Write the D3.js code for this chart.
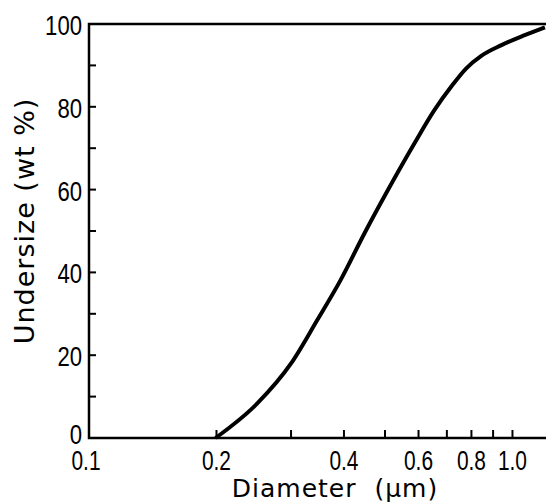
<!DOCTYPE html>
<html>
<head>
<meta charset="utf-8">
<script src="https://cdn.jsdelivr.net/npm/d3@7"></script>
<style>
  body { margin: 0; background: #fff; }
  svg { display: block; }
</style>
</head>
<body>
<figure id="chart" style="margin:0"></figure>
<script>
const diameter = [0.199, 0.25, 0.30, 0.346, 0.393, 0.447, 0.508, 0.587, 0.654, 0.717, 0.778, 0.844, 0.942, 1.069, 1.193];
const undersize = [0, 8.4, 18.0, 28.5, 38.2, 49.4, 59.9, 71.2, 79.2, 84.9, 89.3, 92.3, 94.9, 97.3, 99.2];

const xTickValues = [0.2, 0.3, 0.4, 0.5, 0.6, 0.7, 0.8, 0.9, 1.0];
const xLabelValues = [0.1, 0.2, 0.4, 0.6, 0.8, 1.0];
const yTickValues = [10, 20, 30, 40, 50, 60, 70, 80, 90];
const yLabelValues = [0, 20, 40, 60, 80, 100];

const width = 546, height = 503;
const m = {left: 89, right: 546, top: 24, bottom: 438};

const svg = d3.select("#chart")
  .append("svg")
  .attr("width", width)
  .attr("height", height);

const x = d3.scaleLog().domain([0.1, 1.2]).range([m.left, m.right]);
const y = d3.scaleLinear().domain([0, 100]).range([m.bottom, m.top]);

const tickFont = "'Liberation Sans', Arial, sans-serif";
// the original uses a narrow face, so squeeze the glyphs
const labelWidth = s => s.replace(/[^0-9]/g, "").length * 12.3 + s.replace(/[0-9]/g, "").length * 4.5;

// frame: left, bottom, top
svg.append("path")
  .attr("d", `M${m.right},${m.top}H${m.left}V${m.bottom}H${m.right}`)
  .attr("fill", "none")
  .attr("stroke", "#000")
  .attr("stroke-width", 2.5);

// inward ticks on x axis
svg.selectAll(".xtick")
  .data(xTickValues)
  .enter()
  .append("line")
  .attr("x1", d => x(d))
  .attr("x2", d => x(d))
  .attr("y1", m.bottom)
  .attr("y2", m.bottom - 8)
  .attr("stroke", "#000")
  .attr("stroke-width", 2);

// inward ticks on y axis
svg.selectAll(".ytick")
  .data(yTickValues)
  .enter()
  .append("line")
  .attr("x1", m.left)
  .attr("x2", m.left + 7)
  .attr("y1", d => y(d))
  .attr("y2", d => y(d))
  .attr("stroke", "#000")
  .attr("stroke-width", 2);

// x labels
svg.selectAll(".xlabel")
  .data(xLabelValues)
  .enter()
  .append("text")
  .attr("x", d => x(d) - (d === 0.1 ? 3 : 0))
  .attr("y", 470)
  .attr("text-anchor", "middle")
  .attr("textLength", d => labelWidth(d.toFixed(1)))
  .attr("lengthAdjust", "spacingAndGlyphs")
  .style("font-family", tickFont)
  .style("font-size", "28px")
  .text(d => d.toFixed(1));

// y labels
svg.selectAll(".ylabel")
  .data(yLabelValues)
  .enter()
  .append("text")
  .attr("x", 82)
  .attr("y", d => d === 0 ? 444 : y(d) + 11)
  .attr("text-anchor", "end")
  .attr("textLength", d => labelWidth(String(d)))
  .attr("lengthAdjust", "spacingAndGlyphs")
  .style("font-family", tickFont)
  .style("font-size", "28px")
  .text(d => d);

// axis titles
svg.append("text")
  .attr("x", 335)
  .attr("y", 497)
  .attr("text-anchor", "middle")
  .style("font-family", "'DejaVu Sans', sans-serif")
  .style("font-size", "25px")
  .style("letter-spacing", "1px")
  .style("white-space", "pre")
  .text("Diameter  (μm)");

svg.append("text")
  .attr("transform", "translate(34,221) rotate(-90)")
  .attr("text-anchor", "middle")
  .style("font-family", "'DejaVu Sans', sans-serif")
  .style("font-size", "27px")
  .style("letter-spacing", "1px")
  .style("white-space", "pre")
  .text("Undersize (wt %)");

// the curve
const line = d3.line()
  .x((d, i) => x(diameter[i]))
  .y(d => y(d))
  .curve(d3.curveMonotoneX);

svg.append("path")
  .datum(undersize)
  .attr("d", line)
  .attr("fill", "none")
  .attr("stroke", "#000")
  .attr("stroke-width", 4)
  .attr("stroke-linejoin", "round");
</script>
</body>
</html>
